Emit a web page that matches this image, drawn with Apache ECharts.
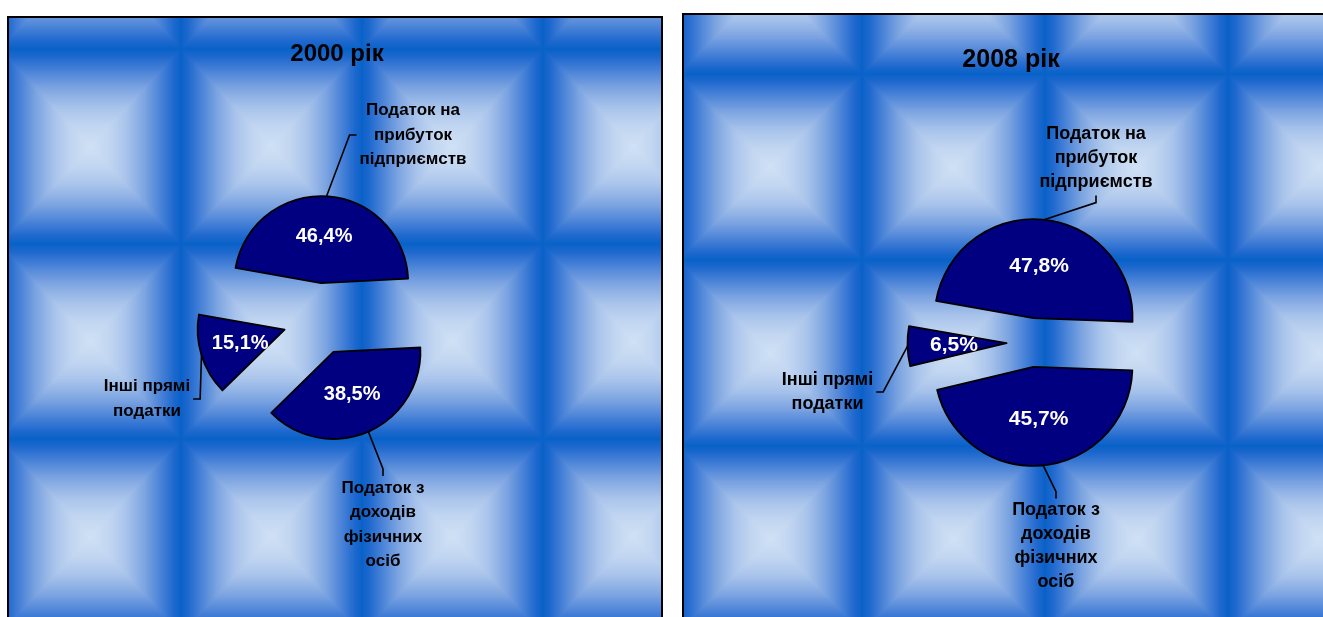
<!DOCTYPE html>
<html>
<head>
<meta charset="utf-8">
<script src="https://cdn.jsdelivr.net/npm/echarts@6/dist/echarts.min.js"></script>
<style>
html,body{margin:0;padding:0;background:#fff;}
#chart{width:1323px;height:617px;}
</style>
</head>
<body>
<div id="chart"></div>
<script>
// ---------- DATA ----------
const categories = ['Податок на прибуток підприємств', 'Податок з доходів фізичних осіб', 'Інші прямі податки'];
const categoryLabels = ['Податок на\nприбуток\nпідприємств', 'Податок з\nдоходів\nфізичних\nосіб', 'Інші прямі\nподатки'];
const years = ['2000 рік', '2008 рік'];
const values2000 = [46.4, 38.5, 15.1];
const values2008 = [47.8, 45.7, 6.5];

// ---------- LAYOUT / STYLE ----------
const FONT = '"Liberation Sans", Arial, sans-serif';
const panels = [
  {
    values: values2000, title: years[0],
    box: [8, 17, 654, 640], tile: [181, 195], tileOrigin: [0, 49],
    center: [319, 319], r: 87, explode: 36, start: 170,
    titlePos: [337, 54], titleSize: 24,
    pctSize: 20, nameSize: 17, nameLH: 24.5,
    pctPos: [[6, -83], [35, 79], [-81, 30]],
    namePos: [[94, -184], [64, 206], [-172, 80]],
    nameEdge: ['left', 'top', 'right']
  },
  {
    values: values2008, title: years[1],
    box: [683, 14, 700, 640], tile: [183, 186], tileOrigin: [679, 74],
    center: [1031, 342.5], r: 99, explode: 24.5, start: 170,
    titlePos: [1011, 60], titleSize: 25,
    pctSize: 21, nameSize: 18, nameLH: 23.7,
    pctPos: [[26, -74.5], [-7, 57.5], [-91, 0.5]],
    namePos: [[65, -184.5], [25, 203.5], [-203.5, 49.5]],
    nameEdge: ['bottom', 'top', 'right']
  }
];

// Rectangular ("from centre") gradient tile for the plot background
const TILE_STOPS = [
  [0, [8, 98, 200]], [0.08, [30, 104, 206]], [0.2, [66, 126, 214]],
  [0.4, [124, 164, 225]], [0.6, [168, 195, 235]], [0.8, [194, 214, 241]], [1, [207, 225, 245]]
];
function tileColor(t) {
  for (let k = 1; k < TILE_STOPS.length; k++) {
    if (t <= TILE_STOPS[k][0]) {
      const a = TILE_STOPS[k - 1], b = TILE_STOPS[k];
      const f = (t - a[0]) / (b[0] - a[0]);
      return [0, 1, 2].map(j => a[1][j] + (b[1][j] - a[1][j]) * f);
    }
  }
  return TILE_STOPS[TILE_STOPS.length - 1][1];
}
function makeTile(w, h) {
  const c = document.createElement('canvas');
  c.width = w; c.height = h;
  const g = c.getContext('2d');
  const img = g.createImageData(w, h);
  const cx = w / 2, cy = h / 2;
  for (let y = 0; y < h; y++) {
    for (let x = 0; x < w; x++) {
      const dx = Math.abs(x + 0.5 - cx) / cx, dy = Math.abs(y + 0.5 - cy) / cy;
      const t = 1 - Math.max(dx, dy);
      const col = tileColor(Math.max(0, Math.min(1, t)));
      const o = (y * w + x) * 4;
      img.data[o] = col[0]; img.data[o + 1] = col[1]; img.data[o + 2] = col[2]; img.data[o + 3] = 255;
    }
  }
  g.putImageData(img, 0, 0);
  return c;
}

function midAngle(p, i) {
  const total = p.values.reduce((a, b) => a + b, 0);
  let cum = 0;
  for (let k = 0; k < i; k++) cum += p.values[k];
  const a0 = p.start - cum / total * 360;
  return a0 - p.values[i] / total * 180;
}

const chart = echarts.init(document.getElementById('chart'), null, {renderer: 'canvas'});

const graphic = panels.map(p => ({
  type: 'rect', silent: true, z: 0,
  shape: {x: p.box[0], y: p.box[1], width: p.box[2], height: p.box[3]},
  style: {
    fill: {image: makeTile(p.tile[0], p.tile[1]), repeat: 'repeat', x: p.tileOrigin[0], y: p.tileOrigin[1]},
    stroke: '#000', lineWidth: 2
  }
}));

const title = panels.map(p => ({
  text: p.title, left: p.titlePos[0], top: p.titlePos[1],
  textAlign: 'center', textVerticalAlign: 'middle', padding: 0,
  textStyle: {fontFamily: FONT, fontWeight: 'bold', fontSize: p.titleSize, color: '#000'}
}));

const series = [];
panels.forEach((p, pi) => {
  const common = {
    type: 'pie', center: p.center, radius: p.r, startAngle: p.start, clockwise: true,
    avoidLabelOverlap: false, animation: false, emphasis: {disabled: true}
  };
  series.push(Object.assign({}, common, {
    id: 'slices' + pi,
    selectedMode: 'multiple', selectedOffset: p.explode,
    data: categories.map((c, i) => ({name: c, value: p.values[i], selected: true})),
    itemStyle: {color: '#000080', borderColor: '#000', borderWidth: 1.8},
    select: {itemStyle: {color: '#000080', borderColor: '#000', borderWidth: 1.8},
             label: {color: '#fff'}},
    label: {
      show: true, position: 'inside', color: '#fff', fontWeight: 'bold',
      fontSize: p.pctSize, fontFamily: FONT,
      formatter: prm => prm.value.toFixed(1).replace('.', ',') + '%'
    },
    labelLine: {show: false},
    labelLayout: prm => {
      const o = p.pctPos[prm.dataIndex];
      return {x: p.center[0] + o[0], y: p.center[1] + o[1], align: 'center', verticalAlign: 'middle'};
    }
  }));
  series.push(Object.assign({}, common, {
    id: 'names' + pi, silent: true, selectedMode: false,
    data: categories.map((c, i) => ({name: c, value: p.values[i]})),
    itemStyle: {color: 'rgba(0,0,0,0)', borderWidth: 0},
    label: {
      show: true, position: 'outside', color: '#000', fontWeight: 'bold',
      fontSize: p.nameSize, lineHeight: p.nameLH, fontFamily: FONT,
      formatter: prm => categoryLabels[prm.dataIndex]
    },
    labelLine: {show: true, lineStyle: {color: '#000', width: 1.6}},
    labelLayout: prm => {
      const i = prm.dataIndex;
      const o = p.namePos[i];
      const x = p.center[0] + o[0], y = p.center[1] + o[1];
      const w = prm.labelRect.width, h = prm.labelRect.height;
      const rad = midAngle(p, i) * Math.PI / 180;
      const ux = Math.cos(rad), uy = -Math.sin(rad);
      const ax = p.center[0] + (p.explode + p.r) * ux;
      const ay = p.center[1] + (p.explode + p.r) * uy;
      let end, tick;
      const edge = p.nameEdge[i];
      if (edge === 'left') { end = [x - w / 2 - 3, y]; tick = [end[0] - 7, y]; }
      else if (edge === 'right') { end = [x + w / 2 + 3, y]; tick = [end[0] + 7, y]; }
      else if (edge === 'top') { end = [x, y - h / 2]; tick = [x, end[1] - 7]; }
      else { end = [x, y + h / 2 + 2]; tick = [x, end[1] + 7]; }
      return {x: x, y: y, align: 'center', verticalAlign: 'middle',
              labelLinePoints: [[ax, ay], tick, end]};
    }
  }));
});

chart.setOption({
  animation: false,
  backgroundColor: '#fff',
  title: title,
  graphic: graphic,
  series: series
});
</script>
</body>
</html>
